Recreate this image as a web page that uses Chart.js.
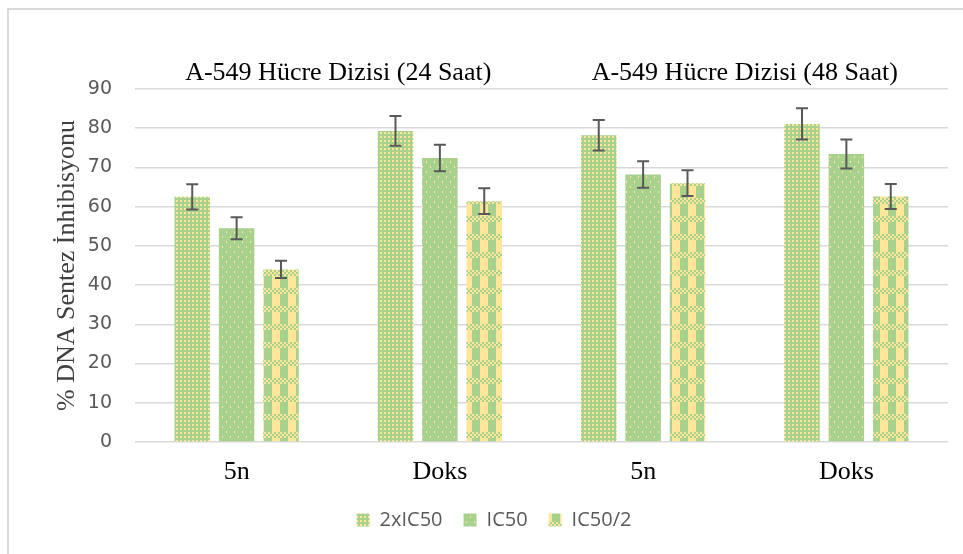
<!DOCTYPE html>
<html lang="tr">
<head>
    <meta charset="UTF-8">
    <title>A-549 Hücre Dizisi</title>
    <script src="https://cdn.jsdelivr.net/npm/chart.js"></script>
    <style>
        body { margin: 0; background: #fff; overflow: hidden; }
        #frame { position: absolute; left: 7px; top: 8px; width: 1000px; height: 1000px; border: 2px solid #d9d9d9; }
        #chart { position: absolute; left: 0; top: 0; }
    </style>
</head>
<body>
    <div id="frame"></div>
    <canvas id="chart" width="963" height="554"></canvas>

    <script>
        const categories = ['5n', 'Doks', '5n', 'Doks'];
        const groupTitles = ['A-549 Hücre Dizisi (24 Saat)', 'A-549 Hücre Dizisi (48 Saat)'];
        const seriesNames = ['2xIC50', 'IC50', 'IC50/2'];

        const twoIC50 = [62.5, 79.3, 78.2, 81.1];
        const twoIC50Err = [3.2, 3.8, 3.9, 4.0];
        const ic50 = [54.5, 72.4, 68.2, 73.4];
        const ic50Err = [2.8, 3.4, 3.4, 3.7];
        const halfIC50 = [44.0, 61.4, 66.0, 62.6];
        const halfIC50Err = [2.2, 3.3, 3.3, 3.2];

        const yTicks = [0, 10, 20, 30, 40, 50, 60, 70, 80, 90];

        const GREEN = '#a9d18e';
        const YELLOW = '#ffe699';

        function makePattern(w, h, draw) {
            const c = document.createElement('canvas');
            c.width = w;
            c.height = h;
            const g = c.getContext('2d');
            g.fillStyle = GREEN;
            g.fillRect(0, 0, w, h);
            g.fillStyle = YELLOW;
            draw(g);
            return document.getElementById('chart').getContext('2d').createPattern(c, 'repeat');
        }

        // dotted grid
        const dotted = makePattern(4, 4, g => g.fillRect(0, 0, 2, 2));
        // sparse dots
        const sparse = makePattern(8, 10, g => {
            g.fillRect(2, 1, 1, 2);
            g.fillRect(6, 6, 1, 2);
        });
        // plaid
        const plaid = makePattern(16, 18, g => {
            g.fillRect(0, 0, 8, 18);
            for (let y = 0; y < 6; y += 2) {
                for (let x = 0; x < 16; x += 2) {
                    g.fillStyle = ((x + y) / 2) % 2 === 0 ? YELLOW : GREEN;
                    g.fillRect(x, y, 2, 2);
                }
            }
        });

        const errors = [twoIC50Err, ic50Err, halfIC50Err];

        const errorBars = {
            id: 'errorBars',
            afterDatasetsDraw(chart) {
                const ctx = chart.ctx;
                const y = chart.scales.y;
                ctx.save();
                ctx.strokeStyle = '#595959';
                ctx.lineWidth = 2;
                chart.data.datasets.forEach((ds, i) => {
                    const meta = chart.getDatasetMeta(i);
                    meta.data.forEach((bar, j) => {
                        const v = ds.data[j];
                        const e = errors[i][j];
                        const top = y.getPixelForValue(v + e);
                        const bottom = y.getPixelForValue(v - e);
                        ctx.beginPath();
                        ctx.moveTo(bar.x, top);
                        ctx.lineTo(bar.x, bottom);
                        ctx.moveTo(bar.x - 6, top);
                        ctx.lineTo(bar.x + 6, top);
                        ctx.moveTo(bar.x - 6, bottom);
                        ctx.lineTo(bar.x + 6, bottom);
                        ctx.stroke();
                    });
                });
                ctx.restore();
            }
        };

        // legend sits a little right of centre in the original
        const legendShift = {
            id: 'legendShift',
            afterLayout(chart) {
                chart.legend.left += 20;
                chart.legend.right += 20;
            }
        };

        const serif = "'Liberation Serif', 'Times New Roman', serif";

        new Chart(document.getElementById('chart'), {
            type: 'bar',
            data: {
                labels: categories,
                datasets: [
                    { label: seriesNames[0], data: twoIC50, backgroundColor: dotted, borderWidth: 0 },
                    { label: seriesNames[1], data: ic50, backgroundColor: sparse, borderWidth: 0 },
                    { label: seriesNames[2], data: halfIC50, backgroundColor: plaid, borderWidth: 0 }
                ]
            },
            options: {
                responsive: false,
                animation: false,
                categoryPercentage: 0.655,
                barPercentage: 0.8,
                layout: { padding: { left: 0, right: 15, top: 49, bottom: 14 } },
                plugins: {
                    tooltip: { enabled: false },
                    legend: {
                        position: 'bottom',
                        labels: {
                            boxWidth: 13,
                            boxHeight: 13,
                            padding: 21,
                            color: '#595959',
                            font: { family: "'Open Sans', sans-serif", size: 20 }
                        }
                    }
                },
                scales: {
                    x: {
                        grid: { display: false },
                        border: { display: false },
                        ticks: { color: '#000', padding: 7, font: { family: serif, size: 26 } },
                        afterFit: s => { s.height = 47; }
                    },
                    x2: {
                        type: 'category',
                        position: 'top',
                        labels: groupTitles,
                        offset: true,
                        grid: { display: false, drawTicks: false },
                        border: { display: false },
                        ticks: { color: '#000', padding: 0, maxRotation: 0, autoSkip: false, font: { family: serif, size: 26 } },
                        afterFit: s => { s.height = 40; }
                    },
                    y: {
                        min: yTicks[0],
                        max: yTicks[yTicks.length - 1],
                        afterBuildTicks: s => { s.ticks = yTicks.map(v => ({ value: v })); },
                        grid: { color: '#d9d9d9', lineWidth: 1.5, drawTicks: false },
                        border: { display: false },
                        ticks: { color: '#595959', padding: 23, font: { family: "'DejaVu Sans', sans-serif", size: 19 } },
                        title: {
                            display: true,
                            text: '% DNA Sentez İnhibisyonu',
                            color: '#404040',
                            padding: { top: 52, bottom: 0 },
                            font: { family: serif, size: 26, weight: 'normal' }
                        },
                        afterFit: s => { s.width = 135; }
                    }
                }
            },
            plugins: [errorBars, legendShift]
        });
    </script>
</body>
</html>
